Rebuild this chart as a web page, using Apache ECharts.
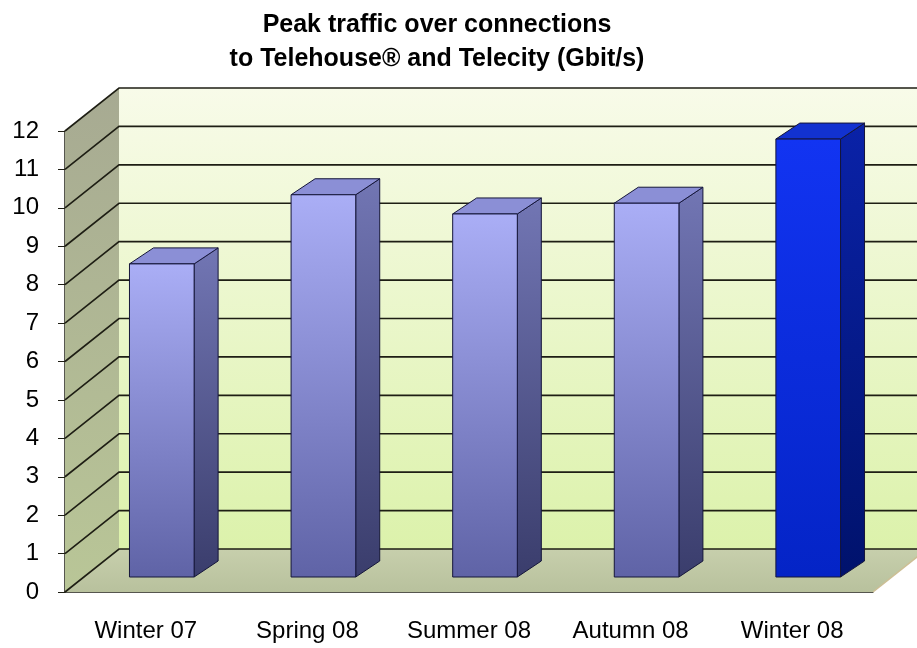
<!DOCTYPE html>
<html>
<head>
<meta charset="utf-8">
<script src="https://cdn.jsdelivr.net/npm/echarts@6/dist/echarts.min.js"></script>
<style>
  html, body { margin: 0; padding: 0; background: #fff; }
  #main { width: 917px; height: 648px; }
</style>
</head>
<body>
<div id="main"></div>
<script>
// data
var categories = ['Winter 07', 'Spring 08', 'Summer 08', 'Autumn 08', 'Winter 08'];
var traffic = [8.15, 9.95, 9.45, 9.73, 11.4];
var yTicks = [0, 1, 2, 3, 4, 5, 6, 7, 8, 9, 10, 11, 12];

// fake 3d look
var WALL_DX = 54, WALL_DY = -43;     // depth of the box
var BAR_FX = 16, BAR_FY = -15;       // bar front face offset
var BAR_DX = 24, BAR_DY = -16;       // bar depth
var LINE = '#1e1e14';

var barColors = [
    { front: ['#aaaef6', '#5f63a6'], side: ['#7276b4', '#3a3d6c'], top: '#8b8fd6' },
    { front: ['#aaaef6', '#5f63a6'], side: ['#7276b4', '#3a3d6c'], top: '#8b8fd6' },
    { front: ['#aaaef6', '#5f63a6'], side: ['#7276b4', '#3a3d6c'], top: '#8b8fd6' },
    { front: ['#aaaef6', '#5f63a6'], side: ['#7276b4', '#3a3d6c'], top: '#8b8fd6' },
    { front: ['#1234f2', '#0424c6'], side: ['#0a22a8', '#00126c'], top: '#1232d0' }
];

function grad(c) {
    return new echarts.graphic.LinearGradient(0, 0, 0, 1, [
        { offset: 0, color: c[0] }, { offset: 1, color: c[1] }
    ]);
}

var myChart = echarts.init(document.getElementById('main'));

myChart.setOption({
    animation: false,
    title: {
        text: 'Peak traffic over connections\nto Telehouse® and Telecity (Gbit/s)',
        left: 432,
        top: 3,
        textAlign: 'center',
        textStyle: {
            fontFamily: '"Liberation Sans", Arial, sans-serif',
            fontWeight: 'bold',
            fontSize: 25,
            lineHeight: 34,
            color: '#000'
        }
    },
    grid: { left: 65, right: 44, top: 131, bottom: 56 },
    xAxis: {
        type: 'category',
        data: categories,
        axisLine: { lineStyle: { color: LINE, width: 1.5 } },
        axisTick: { length: 8, lineStyle: { color: LINE } },
        axisLabel: {
            interval: 0,
            color: '#000',
            fontSize: 24,
            fontFamily: '"Liberation Sans", Arial, sans-serif',
            margin: 27
        }
    },
    yAxis: {
        type: 'value',
        min: 0,
        max: 12,
        interval: 1,
        axisLine: { show: true, lineStyle: { color: LINE, width: 1.5 } },
        axisTick: { show: true, length: 7, lineStyle: { color: LINE } },
        splitLine: { show: false },
        axisLabel: {
            color: '#000',
            fontSize: 24,
            fontFamily: '"Liberation Sans", Arial, sans-serif',
            margin: 26
        }
    },
    series: [
        {
            // walls + floor
            type: 'custom',
            z: 1,
            silent: true,
            data: [[0, 0]],
            renderItem: function (params, api) {
                var cs = params.coordSys;
                var L = cs.x, R = cs.x + cs.width, T = cs.y, B = cs.y + cs.height;
                var dx = WALL_DX, dy = WALL_DY;
                return {
                    type: 'group',
                    children: [
                        {
                            type: 'polygon',
                            shape: { points: [[L + dx, T + dy], [R + dx, T + dy], [R + dx, B + dy], [L + dx, B + dy]] },
                            style: { fill: grad(['#f8fbe9', '#dcf2ab']) }
                        },
                        {
                            type: 'polygon',
                            shape: { points: [[L, T], [L + dx, T + dy], [L + dx, B + dy], [L, B]] },
                            style: { fill: grad(['#a7aa92', '#b9c697']) }
                        },
                        {
                            type: 'polygon',
                            shape: { points: [[L, B], [R, B], [R + dx, B + dy], [L + dx, B + dy]] },
                            style: { fill: grad(['#c7cfac', '#b8c19d']) }
                        },
                        {
                            type: 'line',
                            shape: { x1: R, y1: B, x2: R + dx, y2: B + dy },
                            style: { stroke: '#cdbf95', lineWidth: 1.5 }
                        }
                    ]
                };
            }
        },
        {
            // grid lines on back wall and side wall
            type: 'custom',
            z: 2,
            silent: true,
            data: yTicks.map(function (v) { return [0, v]; }),
            renderItem: function (params, api) {
                var cs = params.coordSys;
                var L = cs.x, R = cs.x + cs.width;
                var y = api.coord([0, api.value(1)])[1];
                return {
                    type: 'polyline',
                    shape: { points: [[L, y], [L + WALL_DX, y + WALL_DY], [R + WALL_DX, y + WALL_DY]] },
                    style: { stroke: LINE, lineWidth: 1.6, fill: null }
                };
            }
        },
        {
            name: 'Peak traffic',
            type: 'custom',
            z: 3,
            data: traffic.map(function (v, i) { return [i, v]; }),
            renderItem: function (params, api) {
                var c0 = api.coord([api.value(0), 0]);
                var c1 = api.coord([api.value(0), api.value(1)]);
                var bw = api.size([1, 0])[0] * 0.4;
                var xl = c0[0] - bw / 2 + BAR_FX, xr = c0[0] + bw / 2 + BAR_FX;
                var yb = c0[1] + BAR_FY, yt = c1[1] + BAR_FY;
                var col = barColors[params.dataIndex];
                var edge = { stroke: '#15163a', lineWidth: 1, lineJoin: 'round' };
                return {
                    type: 'group',
                    children: [
                        {
                            type: 'polygon',
                            shape: { points: [[xr, yt], [xr + BAR_DX, yt + BAR_DY], [xr + BAR_DX, yb + BAR_DY], [xr, yb]] },
                            style: Object.assign({ fill: grad(col.side) }, edge)
                        },
                        {
                            type: 'polygon',
                            shape: { points: [[xl, yt], [xl + BAR_DX, yt + BAR_DY], [xr + BAR_DX, yt + BAR_DY], [xr, yt]] },
                            style: Object.assign({ fill: col.top }, edge)
                        },
                        {
                            type: 'rect',
                            shape: { x: xl, y: yt, width: xr - xl, height: yb - yt },
                            style: Object.assign({ fill: grad(col.front) }, edge)
                        }
                    ]
                };
            }
        }
    ]
});
</script>
</body>
</html>
